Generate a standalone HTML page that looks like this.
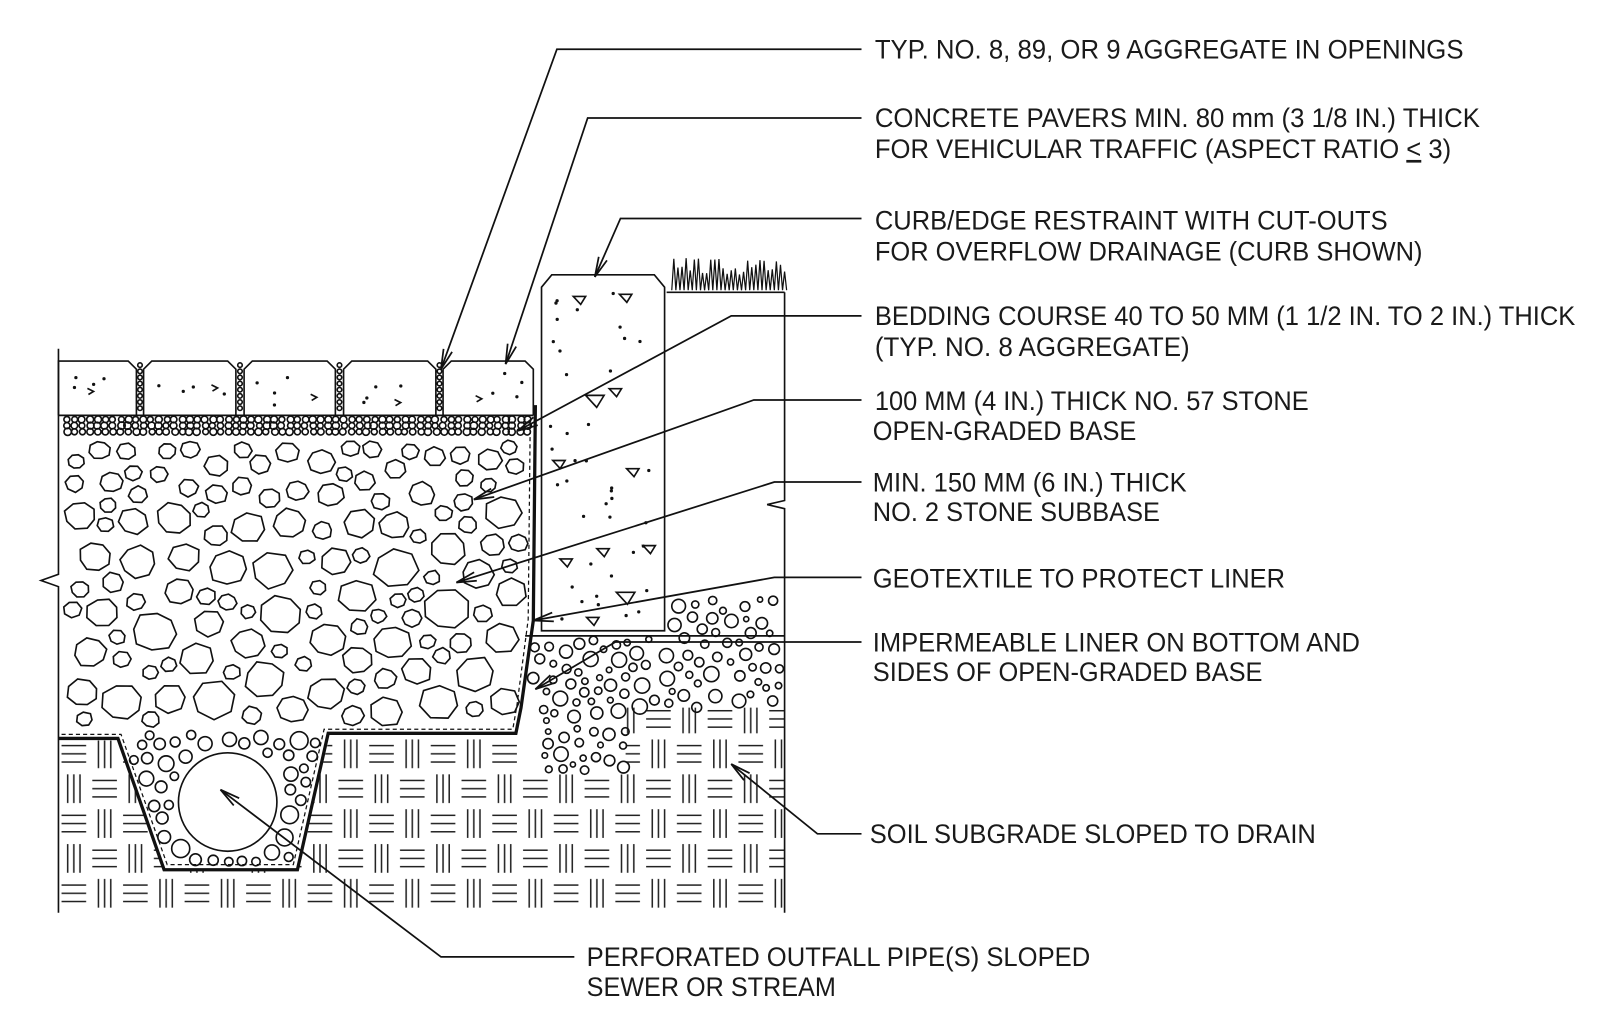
<!DOCTYPE html>
<html><head><meta charset="utf-8"><style>
html,body{margin:0;padding:0;background:#fff;}
svg{display:block;}
text{font-family:"Liberation Sans",sans-serif;font-size:26px;fill:#1a1a1a;}
</style></head><body>
<svg id="s" width="1600" height="1019" viewBox="0 0 1600 1019" xmlns="http://www.w3.org/2000/svg">
<defs>
<pattern id="soil" width="60" height="68" patternUnits="userSpaceOnUse" x="57" y="718">
<g stroke="#222" stroke-width="1.5">
<line x1="3" y1="9" x2="27" y2="9"/><line x1="3" y1="17" x2="27" y2="17"/><line x1="3" y1="25" x2="27" y2="25"/>
<line x1="39" y1="3" x2="39" y2="31"/><line x1="45" y1="3" x2="45" y2="31"/><line x1="51" y1="3" x2="51" y2="31"/>
<line x1="9" y1="37" x2="9" y2="65"/><line x1="15" y1="37" x2="15" y2="65"/><line x1="21" y1="37" x2="21" y2="65"/>
<line x1="33" y1="43" x2="57" y2="43"/><line x1="33" y1="51" x2="57" y2="51"/><line x1="33" y1="59" x2="57" y2="59"/>
</g></pattern>
</defs>
<g transform="scale(1.0256)">
<g id="g" fill="none" stroke="#111" stroke-width="1.6"></g>
<g>
<text x="853" y="57" textLength="574" lengthAdjust="spacingAndGlyphs">TYP. NO. 8, 89, OR 9 AGGREGATE IN OPENINGS</text>
<text x="853" y="124" textLength="590" lengthAdjust="spacingAndGlyphs">CONCRETE PAVERS MIN. 80 mm (3 1/8 IN.) THICK</text>
<text x="853" y="154" textLength="562" lengthAdjust="spacingAndGlyphs">FOR VEHICULAR TRAFFIC (ASPECT RATIO <tspan text-decoration="underline">&lt;</tspan> 3)</text>
<text x="853" y="224" textLength="500" lengthAdjust="spacingAndGlyphs">CURB/EDGE RESTRAINT WITH CUT-OUTS</text>
<text x="853" y="254" textLength="534" lengthAdjust="spacingAndGlyphs">FOR OVERFLOW DRAINAGE (CURB SHOWN)</text>
<text x="853" y="317" textLength="683" lengthAdjust="spacingAndGlyphs">BEDDING COURSE 40 TO 50 MM (1 1/2 IN. TO 2 IN.) THICK</text>
<text x="853" y="347" textLength="307" lengthAdjust="spacingAndGlyphs">(TYP. NO. 8 AGGREGATE)</text>
<text x="853" y="400" textLength="423" lengthAdjust="spacingAndGlyphs">100 MM (4 IN.) THICK NO. 57 STONE</text>
<text x="851" y="429" textLength="257" lengthAdjust="spacingAndGlyphs">OPEN-GRADED BASE</text>
<text x="851" y="479" textLength="306" lengthAdjust="spacingAndGlyphs">MIN. 150 MM (6 IN.) THICK</text>
<text x="851" y="508" textLength="280" lengthAdjust="spacingAndGlyphs">NO. 2 STONE SUBBASE</text>
<text x="851" y="573" textLength="402" lengthAdjust="spacingAndGlyphs">GEOTEXTILE TO PROTECT LINER</text>
<text x="851" y="635" textLength="475" lengthAdjust="spacingAndGlyphs">IMPERMEABLE LINER ON BOTTOM AND</text>
<text x="851" y="664" textLength="380" lengthAdjust="spacingAndGlyphs">SIDES OF OPEN-GRADED BASE</text>
<text x="848" y="822" textLength="435" lengthAdjust="spacingAndGlyphs">SOIL SUBGRADE SLOPED TO DRAIN</text>
<text x="572" y="942" textLength="491" lengthAdjust="spacingAndGlyphs">PERFORATED OUTFALL PIPE(S) SLOPED</text>
<text x="572" y="971" textLength="243" lengthAdjust="spacingAndGlyphs">SEWER OR STREAM</text>
</g>
</g>
</svg>
<script>
(function(){
var s=1234567;function R(){s|=0;s=s+0x6D2B79F5|0;var t=Math.imul(s^s>>>15,1|s);t=t+Math.imul(t^t>>>7,61|t)^t;return((t^t>>>14)>>>0)/4294967296;}
var o=[];
function P(d,extra){o.push('<path d="'+d+'" '+(extra||'')+'/>');}
function L(a,b,c,d,w){o.push('<line x1="'+a+'" y1="'+b+'" x2="'+c+'" y2="'+d+'"'+(w?' stroke-width="'+w+'"':'')+'/>');}
function C(x,y,r){o.push('<circle cx="'+x.toFixed(1)+'" cy="'+y.toFixed(1)+'" r="'+r.toFixed(1)+'"/>');}
o.push('<path d="M57,722 L115,722 L160,848 L290,848 L322,715 L505,715 L510,755 L610,755 L610,690 L765,690 L765,890 L57,890 Z" fill="url(#soil)" stroke="none"/>');
var pv=[[57,133],[140,230],[238,327],[335,425],[432,520]];
pv.forEach(function(p,i){var a=p[0],b=p[1];
 P('M'+a+',405 L'+a+','+(i==0?352:360)+' L'+(a+(i==0?0:8))+',352 L'+(b-8)+',352 L'+b+',360 L'+b+',405');
 for(var k=0;k<4;k++){var x=a+8+R()*(b-a-16),y=362+R()*38;C(x,y,0.8);}
 var x=a+20+R()*(b-a-40),y=365+R()*30;P('M'+x+','+y+' l6,3 l-5,3');
});
L(57,405,520,405);
[136.5,234,331,428.5].forEach(function(x){for(var y=356;y<404;y+=6)C(x,y,2.2);});
for(var y=409;y<426;y+=6)for(var x=61+(y%12?3:0);x<518;x+=7.5)C(x+R()*2,y,2.8+R()*0.8);
var st=[];
function poly(x,y,r){var n=7+Math.floor(R()*2),a0=R()*6.28,d='';for(var i=0;i<n;i++){var a=a0+i*6.283/n,rr=r*(0.88+R()*0.16);d+=(i?'L':'M')+(x+rr*Math.cos(a)).toFixed(1)+','+(y+rr*Math.sin(a)*0.88).toFixed(1);}P(d+'Z');}
function place(x0,x1,y0,y1,rf,n,circ,test,gap){for(var i=0;i<n;i++){var y=y0+R()*(y1-y0),x=x0+R()*(x1-x0),r=rf(y);if(test&&!test(x,y,r))continue;if(x-r<x0||x+r>x1||y-r<y0||y+r>y1)continue;var ok=true;for(var j=0;j<st.length;j++){var q=st[j];var dx=q[0]-x,dy=q[1]-y;if(dx*dx+dy*dy<(q[2]+r+gap)*(q[2]+r+gap)){ok=false;break;}}if(!ok)continue;st.push([x,y,r]);if(circ)C(x,y,r);else poly(x,y,r);}}
place(61,515,427,712,function(y){return y<490?9+R()*5:(y<540?12+R()*8:15+R()*8);},4000,false,function(x,y,r){return !(x>495&&y>620&&x+r>500);},1.5);
place(61,515,427,712,function(y){return 8+R()*4;},20000,false,function(x,y,r){return !(x>495&&y>620&&x+r>500);},1.5);
st.push([222,782,50]);
place(120,318,712,845,function(){return 4+R()*5;},4000,true,function(x,y,r){var l=115+(y-720)*45/128+r+4,rr=320-(y-715)*30/133-r-4;return x>l&&x<rr;},2.5);
C(222,782,48);
st=[];
place(512,764,580,755,function(){return 2.5+R()*5;},2500,true,function(x,y,r){if(y>690&&x>610)return false;if(x<648&&y<620+r)return false;if(x<530&&y>680-(x-510))return false;var top=x>648?580+R()*30:620;return y>top;},3);
P('M57,720 L115,720 L160,848 L290,848 L320,715 L503,715 L508,690 L520,605 L522,395','stroke-width="3.2"');
P('M60,716 L118,716 L163,843 L286,843 L316,711 L500,711 L504,688 L515,604 L517,410','stroke-width="1.2" stroke-dasharray="4,3"');
P('M57,340 L57,560 L40,566 L57,572 L57,890');
P('M765,285 L765,488 L748,492 L765,496 L765,890');
L(512,620,765,620);
P('M528,280 L538,268 L638,268 L648,280 L648,615 L528,615 Z','fill="#fff"');
for(var i=0;i<40;i++)C(534+R()*108,285+R()*320,0.8);
[[565,292,0],[610,290,1],[580,390,2],[600,382,0],[545,452,1],[617,460,0],[552,548,0],[588,538,0],[633,535,1],[578,605,0],[610,582,2]].forEach(function(t){var z=t[2]==2?9:6;P('M'+(t[0]-z)+','+(t[1]-z/2)+' l'+(2*z)+',0 l'+(-z*0.8)+','+(z*1.3)+' Z');});
L(650,285,765,285);
var g='M655,283';for(var x=655;x<765;x+=4){g+=' L'+(x+2)+','+(250+R()*18)+' L'+(x+4)+',283';}P(g,'stroke-width="1.2"');
function ld(pts){var d='';pts.forEach(function(p,i){d+=(i?'L':'M')+p[0]+','+p[1]+' ';});P(d,'stroke-width="1.7"');var a=pts[pts.length-2],b=pts[pts.length-1];var ang=Math.atan2(b[1]-a[1],b[0]-a[0]);var l=20,w=0.22;P('M'+(b[0]-l*Math.cos(ang-w)).toFixed(1)+','+(b[1]-l*Math.sin(ang-w)).toFixed(1)+' L'+b[0]+','+b[1]+' L'+(b[0]-l*Math.cos(ang+w)).toFixed(1)+','+(b[1]-l*Math.sin(ang+w)).toFixed(1),'stroke-width="1.7"');}
[[[840,48],[543,48],[430,360]],[[840,115],[573,115],[493,355]],[[840,213],[605,213],[580,270]],[[840,308],[713,308],[505,420]],[[840,390],[735,390],[462,487]],[[840,470],[755,470],[445,568]],[[840,563],[755,563],[520,605]],[[840,626],[600,626],[522,672]],[[840,813],[797,813],[713,745]],[[560,933],[430,933],[215,770]]].forEach(ld);
document.getElementById('g').innerHTML=o.join('');
})();
</script>
</body></html>
